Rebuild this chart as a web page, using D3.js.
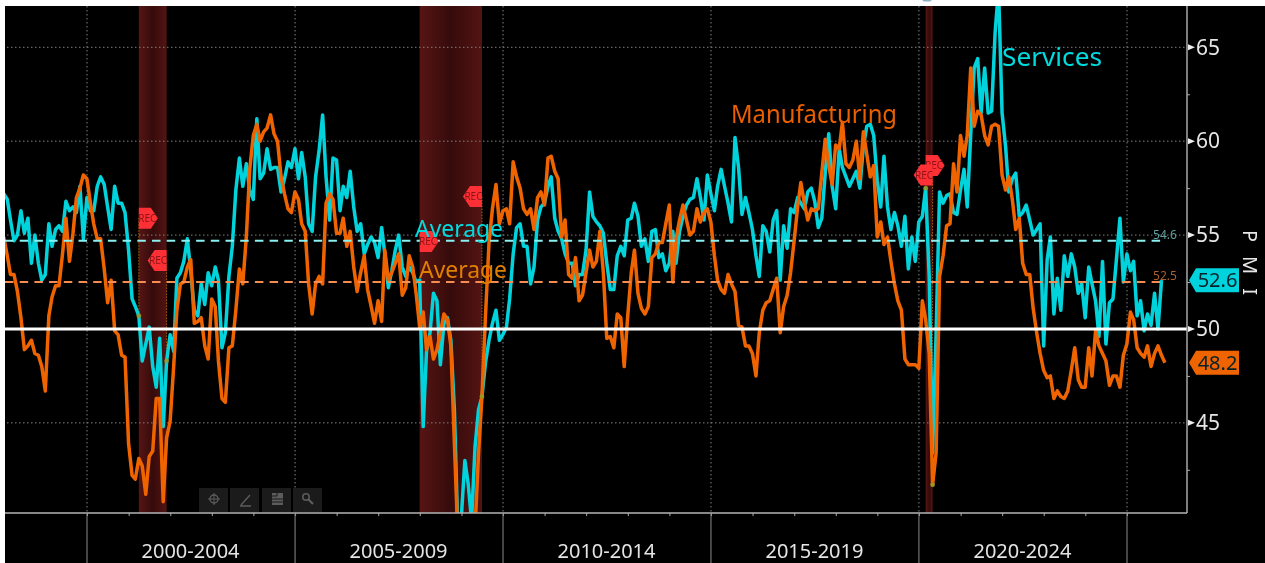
<!DOCTYPE html>
<html><head><meta charset="utf-8">
<style>html,body{margin:0;padding:0;background:#fff;overflow:hidden}svg{display:block;font-family:"Noto Sans",sans-serif;filter:blur(0.45px)}</style>
<script src="https://cdn.jsdelivr.net/npm/d3@7/dist/d3.min.js"></script>
</head><body><svg id="c" width="1265" height="563"></svg>
<script>
// Monthly values, month-end dates, first point December 1997
const servicesPMI = [
57.2,56.9,55.8,54.7,55.0,56.3,55.1,55.9,53.5,55.0,
53.5,52.6,52.9,55.6,54.4,55.3,55.5,55.2,56.8,56.3,
56.5,56.2,57.6,54.8,57.0,56.3,56.3,57.6,58.1,57.7,
56.5,55.3,57.6,56.7,56.7,56.2,54.2,51.6,51.2,50.7,
48.3,49.2,50.1,48.0,46.9,49.5,44.8,48.3,49.7,48.8,
52.7,53.0,53.6,54.8,53.1,51.0,50.7,52.4,51.3,53.0,
52.3,53.3,52.6,49.0,49.8,52.8,54.4,57.4,59.1,57.6,
58.8,57.4,56.9,61.2,58.0,58.3,59.6,58.5,58.6,58.6,
57.3,58.0,58.9,58.6,59.6,58.0,59.4,58.1,55.6,55.2,
58.1,59.5,61.4,58.1,55.8,59.1,59.0,56.3,57.6,57.0,
58.4,56.5,55.2,55.6,54.0,54.5,54.9,54.6,53.8,55.4,
54.0,52.2,53.1,54.2,55.0,53.3,52.8,53.3,53.0,52.5,
52.6,44.8,48.8,49.8,51.9,51.5,48.1,50.3,50.6,49.4,
45.7,39.3,40.0,43.0,41.8,39.8,43.7,45.7,46.4,48.2,
49.4,50.3,51.0,49.4,49.7,50.1,51.6,54.0,55.4,55.6,
54.4,54.4,52.4,53.3,55.8,56.5,56.7,57.6,58.1,55.9,
55.2,54.8,54.0,53.5,53.5,52.3,52.9,52.9,54.2,57.3,
56.0,55.7,55.5,55.1,53.5,52.1,52.1,53.9,54.4,53.9,
55.8,55.9,56.7,56.0,54.4,54.8,53.6,55.2,55.3,53.8,
54.0,53.1,53.5,55.2,53.5,55.2,56.0,56.6,56.9,57.0,
58.0,57.0,55.8,58.2,57.2,56.3,57.6,58.5,57.6,56.7,
55.7,60.2,58.6,56.1,57.0,56.2,55.3,53.9,52.8,55.5,
55.2,54.1,55.8,56.3,52.6,55.5,54.3,56.4,56.2,57.0,
56.7,56.4,57.3,57.5,56.8,55.4,55.9,58.3,60.4,57.6,
56.4,59.6,58.6,58.1,57.6,58.0,58.4,57.5,59.7,60.8,
60.9,60.3,57.9,56.5,59.2,56.5,55.3,56.2,55.5,54.4,
56.0,53.2,54.9,53.6,55.7,56.0,57.5,52.8,43.4,49.8,
57.3,56.7,57.1,57.2,56.2,56.1,57.4,58.5,56.5,60.4,
63.9,64.4,61.5,63.9,61.5,61.6,65.8,68.1,61.5,59.7,
57.3,58.0,58.3,56.0,56.2,56.6,55.8,55.0,55.3,55.6,
49.1,53.7,54.9,50.8,52.7,51.0,53.9,52.8,54.0,53.3,
51.9,52.4,50.6,53.3,52.4,51.5,49.6,53.6,49.2,51.4,
51.6,53.7,55.9,52.5,54.0,53.1,53.6,50.7,51.5,49.9,
50.8,50.2,51.9,50.0,52.6];
const manufacturingPMI = [
54.9,53.9,52.9,52.9,52.0,50.6,48.9,49.1,49.4,48.7,
48.6,48.0,46.7,50.7,51.7,52.3,52.3,54.0,55.9,53.6,
55.1,57.0,57.5,58.2,58.0,56.7,55.6,54.8,54.8,53.2,
51.4,52.6,49.9,49.7,48.6,48.5,43.9,42.2,42.0,43.1,
42.7,41.2,43.2,43.5,46.3,46.3,40.8,44.2,45.1,48.0,
51.0,52.4,52.5,53.3,53.7,50.3,50.4,50.6,49.1,48.4,
51.6,51.2,48.3,46.3,46.1,49.0,49.1,51.0,53.2,52.4,
54.9,58.5,60.3,60.9,60.0,60.5,60.7,61.4,60.4,60.0,
58.1,57.2,56.4,56.2,57.3,56.9,55.6,55.2,52.4,50.8,
52.4,52.8,52.4,56.7,57.2,56.9,55.1,55.1,55.9,54.4,
55.2,53.3,52.0,53.0,53.9,52.1,51.2,50.3,51.5,50.4,
54.2,52.6,53.0,53.5,54.0,51.8,52.2,53.9,53.3,51.9,
50.1,50.9,48.9,49.6,48.4,48.9,49.8,50.8,50.5,49.1,
43.9,39.0,37.0,33.5,35.6,36.3,39.3,43.4,46.4,50.7,
54.6,56.4,57.7,55.6,56.3,56.4,55.6,58.9,58.1,57.5,
56.4,56.1,56.4,55.3,57.0,57.3,56.6,59.1,59.2,58.4,
58.0,54.9,55.8,52.9,52.7,53.8,51.5,51.8,53.0,54.2,
53.3,53.6,55.2,53.0,49.5,49.6,49.0,50.8,50.6,48.0,
50.7,53.0,54.2,51.9,51.1,50.8,51.2,53.8,54.0,54.6,
54.6,55.6,56.6,52.5,54.8,55.8,56.6,55.8,55.0,55.2,
56.4,55.7,56.2,56.4,55.7,53.9,52.6,52.1,51.9,52.9,
52.4,52.0,50.2,50.1,49.1,49.1,48.7,47.5,49.8,51.0,
51.4,51.5,52.1,52.7,49.8,51.2,51.8,53.0,54.7,56.5,
57.8,56.7,55.8,56.4,56.3,56.4,58.3,60.1,58.7,57.7,
59.8,59.6,61.0,58.8,58.6,59.0,60.0,58.0,60.5,59.3,
58.1,58.7,54.9,55.7,54.5,54.9,53.6,52.4,51.5,51.0,
48.4,48.1,48.1,48.1,47.9,51.5,50.5,48.7,41.7,43.4,
52.8,53.9,55.5,55.6,58.8,57.3,60.3,59.2,60.3,63.9,
60.8,61.6,61.4,60.3,59.8,60.8,60.9,60.8,58.2,57.4,
58.1,56.9,55.3,55.9,53.5,52.9,52.9,51.1,49.8,48.7,
47.8,47.4,47.5,46.3,46.7,46.4,46.3,46.7,47.8,49.0,
47.3,46.9,46.9,49.0,47.5,49.9,49.1,48.7,48.3,47.0,
47.5,47.5,46.9,48.6,49.2,50.9,50.5,49.0,48.7,48.5,
49.1,48.0,48.7,49.1,48.6,48.2];
const firstMonth = "1997-12-31";
const recessionStart = ["2001-03-31","2007-12-31","2020-02-29"];
const recessionEnd   = ["2001-11-30","2009-06-30","2020-04-30"];
const yMajor = [45,50,55,60,65];
const yMinor = [42.5,47.5,52.5,57.5,62.5];
const periodLabels = ["2000-2004","2005-2009","2010-2014","2015-2019","2020-2024"];
const periodYears = [2000,2005,2010,2015,2020,2025];
const avgServices = 54.7, avgManufacturing = 52.5;
const avgServicesLabel = "54.6", avgManufacturingLabel = "52.5";
const lastServices = "52.6", lastManufacturing = "48.2";
// REC flags: recession edge date, level, pointing side
const recDates  = ["2001-03-31","2001-11-30","2007-12-31","2009-06-30","2020-02-29","2020-04-30"];
const recLevels = [55.9,53.65,54.66,57.05,58.7,58.2];
const recSides  = [1,-1,1,-1,1,-1];

const L=5,T=6,R=1187,B=513;
const parse=d3.utcParse("%Y-%m-%d");
const monthEnd=k=>d3.utcDay.offset(d3.utcMonth.offset(d3.utcMonth.floor(d3.utcDay.offset(parse(firstMonth),1)),k),-1);
const x=d3.scaleUtc().domain([new Date(Date.UTC(2000,0,1)),new Date(Date.UTC(2025,0,1))]).range([87,1127]);
const y=d3.scaleLinear().domain([40.2,67.2]).range([B,T]);
const CY="#00d3dc",OR="#f06400";

const svg=d3.select("#c");
const defs=svg.append("defs");
defs.append("clipPath").attr("id","plot").append("rect").attr("x",L).attr("y",T).attr("width",R-L).attr("height",B-T);
const grad=defs.append("linearGradient").attr("id","rec").attr("x1",0).attr("x2",1).attr("y1",0).attr("y2",0);
[[0,"#561514"],[.5,"#360b0b"],[1,"#531413"]].forEach(s=>grad.append("stop").attr("offset",s[0]).attr("stop-color",s[1]));

svg.append("rect").attr("width",1265).attr("height",563).attr("fill","#fff");
svg.append("rect").attr("x",L).attr("y",T).attr("width",1265-L).attr("height",563-T).attr("fill","#000");
svg.append("path").attr("d","M922 0H932L930 1.6H924Z").attr("fill","#8fb0c8");

const plot=svg.append("g").attr("clip-path","url(#plot)");
// recessions
plot.selectAll(".rec").data(recessionStart).join("rect")
  .attr("x",d=>x(parse(d))).attr("width",(d,i)=>x(parse(recessionEnd[i]))-x(parse(d)))
  .attr("y",T).attr("height",B-T).attr("fill","url(#rec)");
// grid
plot.selectAll(".gy").data(yMajor.filter(v=>v!==50)).join("line")
  .attr("x1",L+2).attr("x2",R).attr("y1",y).attr("y2",y)
  .attr("stroke","#808080").attr("stroke-width",1).attr("stroke-dasharray","1.5 2.5");
plot.selectAll(".gx").data(periodYears).join("line")
  .attr("x1",d=>x(new Date(Date.UTC(d,0,1)))).attr("x2",d=>x(new Date(Date.UTC(d,0,1))))
  .attr("y1",T).attr("y2",B).attr("stroke","#808080").attr("stroke-width",1).attr("stroke-dasharray","1.5 2.5");

// recession edge stems
const stem=[[0,servicesPMI,39],[1,servicesPMI,47],[3,manufacturingPMI,138],[4,servicesPMI,266],[5,manufacturingPMI,268]];
plot.selectAll(".stem").data(stem).join("line")
  .attr("x1",d=>x(parse(recDates[d[0]]))).attr("x2",d=>x(parse(recDates[d[0]])))
  .attr("y1",d=>y(recLevels[d[0]])).attr("y2",d=>y(d[1][d[2]]))
  .attr("stroke","#a8620c").attr("stroke-width",1).attr("stroke-dasharray","1.5 1.5");

const line=d3.line().x((d,i)=>x(monthEnd(i))).y(d=>y(d)).curve(d3.curveLinear);
plot.append("path").datum(servicesPMI).attr("d",line).attr("fill","none").attr("stroke",CY).attr("stroke-width",3.5).attr("stroke-linejoin","round");
plot.append("path").datum(manufacturingPMI).attr("d",line).attr("fill","none").attr("stroke",OR).attr("stroke-width",3.5).attr("stroke-linejoin","round");

// recession edge dots
plot.selectAll(".dot").data(stem).join("circle")
  .attr("cx",d=>x(monthEnd(d[2]))).attr("cy",d=>y(d[1][d[2]])).attr("r",2.4).attr("fill","#9a9a22").attr("fill-opacity",.85);

// 50 line and averages
svg.append("line").attr("x1",L).attr("x2",R).attr("y1",y(50)).attr("y2",y(50)).attr("stroke","#fff").attr("stroke-width",2.8);
const dashX1=x(monthEnd(335));
[[avgServices,"#8af0f0"],[avgManufacturing,"#f58c52"]].forEach(a=>{
  svg.append("line").attr("x1",L).attr("x2",dashX1).attr("y1",y(a[0])).attr("y2",y(a[0]))
    .attr("stroke",a[1]).attr("stroke-width",2).attr("stroke-dasharray","8.5 6.2");
});

// REC flags
const flags=svg.append("g");
recDates.forEach((d,i)=>{
  const w=19,h=21,nose=7,s=recSides[i],x0=x(parse(d)),yc=y(recLevels[i]);
  const px=v=>x0+s*v;
  flags.append("polygon").attr("fill","#ff3035").attr("points",[
    [px(0),yc-h/2],[px(w-nose),yc-h/2],[px(w),yc],[px(w-nose),yc+h/2],[px(0),yc+h/2]].map(p=>p.join(",")).join(" "));
  flags.append("text").attr("x",x0+s*w/2-s*1).attr("y",yc+3.5).attr("text-anchor","middle")
    .attr("font-size",10).attr("fill","#8a1418").text("REC");
});

// annotations
const note=(t,xp,yp,size,fill,len)=>svg.append("text").attr("x",xp).attr("y",yp).attr("font-size",size).attr("fill",fill)
  .attr("textLength",len).attr("lengthAdjust","spacingAndGlyphs").text(t);
note("Services",1002,66,26,"#00dbe0",100);
note("Manufacturing",731,123,26,"#ea5f00",166);
note("Average",415,237,24,"#00dce0",88);
note("Average",419,278,24,"#e08000",88);

// toolbar decoration
const tb=svg.append("g");
[199,230,262,293].forEach(xp=>tb.append("rect").attr("x",xp).attr("y",488).attr("width",29).attr("height",24).attr("fill","#1b1b1b"));
const ic="#5c5c5c";
tb.append("circle").attr("cx",214).attr("cy",499).attr("r",4).attr("fill","none").attr("stroke",ic).attr("stroke-width",1.4);
tb.append("path").attr("d","M214 493V505M208 499H220").attr("stroke",ic).attr("stroke-width",1);
tb.append("path").attr("d","M241 505L250 495M240 506H251").attr("stroke",ic).attr("stroke-width",1.4).attr("fill","none");
tb.append("path").attr("d","M272 493H283V505H272Z").attr("fill",ic);
tb.append("path").attr("d","M272 496H277V493M272 499H283M272 502H283").attr("stroke","#1b1b1b").attr("fill","none");
tb.append("circle").attr("cx",306).attr("cy",497).attr("r",3.2).attr("fill","none").attr("stroke",ic).attr("stroke-width",1.5);
tb.append("path").attr("d","M308.5 499.5L313 504").attr("stroke",ic).attr("stroke-width",2.2);

// Y axis
const yAxis=svg.append("g").attr("transform",`translate(${R},0)`)
  .call(d3.axisRight(y).tickValues(yMinor).tickSize(3).tickFormat(""));
yAxis.selectAll("line").attr("stroke","#aaa");
yAxis.select(".domain").remove();
svg.append("line").attr("x1",R).attr("x2",R).attr("y1",T).attr("y2",B).attr("stroke","#b4b4b4").attr("stroke-width",1.4);
const yLab=svg.append("g").attr("transform",`translate(${R},0)`)
  .call(d3.axisRight(y).tickValues(yMajor).tickSize(0).tickPadding(9).tickFormat(d3.format("d")));
yLab.select(".domain").remove();
yLab.selectAll("text").attr("font-size",21).attr("font-family","'Noto Sans',sans-serif").attr("fill","#e6e6e6");
yMajor.forEach(v=>svg.append("path").attr("d",`M${R+1} ${y(v)-3}L${R+8} ${y(v)}L${R+1} ${y(v)+3}Z`).attr("fill","#eee"));

// X axis
const xAxis=svg.append("g").attr("transform",`translate(0,${B})`)
  .call(d3.axisBottom(x).ticks(d3.utcYear.every(1)).tickSize(3).tickFormat(""));
xAxis.selectAll("line").attr("stroke","#aaa");
xAxis.selectAll(".tick").filter(d=>d<x.invert(L)||d>x.invert(R)).remove();
xAxis.select(".domain").remove();
svg.append("line").attr("x1",L).attr("x2",R).attr("y1",B).attr("y2",B).attr("stroke","#b4b4b4").attr("stroke-width",1.4);
svg.selectAll(".major").data(periodYears).join("line")
  .attr("x1",d=>x(new Date(Date.UTC(d,0,1)))).attr("x2",d=>x(new Date(Date.UTC(d,0,1))))
  .attr("y1",B).attr("y2",563).attr("stroke","#8a8a8a").attr("stroke-width",1);
svg.selectAll(".plab").data(periodLabels).join("text")
  .attr("x",(d,i)=>(x(new Date(Date.UTC(periodYears[i],0,1)))+x(new Date(Date.UTC(periodYears[i+1],0,1))))/2-0.5)
  .attr("y",558).attr("text-anchor","middle").attr("font-size",20).attr("fill","#e4e4e4").text(d=>d);

// right hand tags
const tag=(t,v,fill)=>{
  const h=24,yc=y(v);
  svg.append("polygon").attr("fill",fill).attr("points",
    [[1189,yc],[1196,yc-h/2],[1239,yc-h/2],[1239,yc+h/2],[1196,yc+h/2]].map(p=>p.join(",")).join(" "));
  svg.append("text").attr("x",1217.5).attr("y",yc+7).attr("text-anchor","middle").attr("font-size",20).attr("fill","#06222a").text(t);
};
tag(lastServices,+lastServices,CY);
tag(lastManufacturing,+lastManufacturing,OR);
svg.append("text").attr("x",1165).attr("y",239).attr("text-anchor","middle").attr("font-size",12).attr("fill","#5f9fa0").text(avgServicesLabel);
svg.append("text").attr("x",1165).attr("y",280).attr("text-anchor","middle").attr("font-size",12).attr("fill","#ad5f2e").text(avgManufacturingLabel);

// P M I
svg.append("text").attr("transform","translate(1243,230) rotate(90)")
  .attr("font-size",20).attr("fill","#e6e6e6").attr("letter-spacing",14).text("PMI");
</script></body></html>
